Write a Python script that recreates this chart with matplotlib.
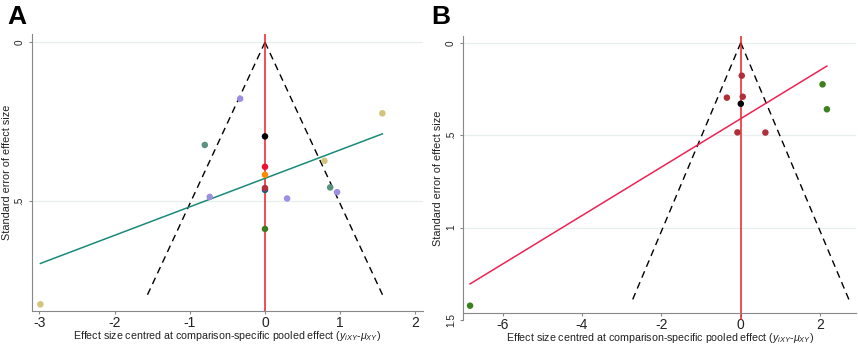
import matplotlib
matplotlib.use("Agg")
import matplotlib.pyplot as plt
import numpy as np

plt.rcParams['font.family'] = ['Liberation Sans', 'DejaVu Sans']
plt.rcParams['mathtext.fontset'] = 'custom'
plt.rcParams['mathtext.rm'] = 'Liberation Sans'
plt.rcParams['mathtext.it'] = 'Liberation Sans:italic'

# Panel A data
a_x = [-0.33, 1.56, 0.0, -0.80, 0.79, 0.0, 0.0, 0.0, 0.0, 0.866, 0.958, -0.734, 0.294, 0.0, -2.985]
a_se = [0.178, 0.224, 0.297, 0.324, 0.374, 0.393, 0.418, 0.466, 0.460, 0.458, 0.473, 0.488, 0.493, 0.589, 0.827]
a_col = ['#9d8fe0', '#d2c47c', '#000000', '#5b917f', '#d2c47c', '#ee1030', '#ff8a00', '#1c5a8c',
         '#b0303a', '#5b917f', '#9d8fe0', '#9d8fe0', '#9d8fe0', '#3d7a1e', '#d2c47c']
a_fit = ([-2.985, 1.56], [0.698, 0.289])
a_semax = 0.80

# Panel B data
b_x = [0.025, 2.06, -0.35, 0.05, 0.0, 2.17, -0.084, 0.62, -6.82]
b_se = [0.178, 0.225, 0.297, 0.292, 0.33, 0.36, 0.485, 0.486, 1.423]
b_col = ['#b0303a', '#3d8020', '#b0303a', '#b0303a', '#000000', '#3d8020', '#b0303a', '#b0303a', '#3d8020']
b_fit = ([-6.82, 2.17], [1.305, 0.126])
b_semax = 1.40

xlabel = r"Effect size centred at comparison-specific pooled effect ($y_{iXY}$-$\mu_{XY}$)"

fig = plt.figure(figsize=(8.58, 3.44), dpi=100)
axA = fig.add_axes([0.037, 0.096, 0.456, 0.805])
axB = fig.add_axes([0.540, 0.070, 0.458, 0.825])


def funnel(ax, x, se, cols, fit, fitcol, semax, xlim, ylim, yticks, yticklabels, xticks, spine_y, label_y):
    ax.set_xlim(*xlim)
    ax.set_ylim(*ylim)
    for t in yticks:
        ax.axhline(t, color='#e6eeee', lw=0.9, zorder=0)
    s = np.array([0, semax])
    ax.plot(-1.96 * s, s, color='black', ls=(0, (5, 3.5)), lw=1.0, zorder=2)
    ax.plot(1.96 * s, s, color='black', ls=(0, (5, 3.5)), lw=1.0, zorder=2)
    ax.axvline(0, color='#ee1c24', lw=1.1, zorder=2)
    ax.plot(fit[0], fit[1], color=fitcol, lw=1.1, zorder=3)
    ax.scatter(x, se, c=cols, s=22, zorder=4, linewidths=0)
    ax.set_yticks(yticks)
    ax.set_yticklabels(yticklabels, rotation=90, va='center', fontsize=7.2)
    ax.set_xticks(xticks)
    ax.set_xticklabels([str(t) for t in xticks], fontsize=7.2)
    for sp in ['top', 'right']:
        ax.spines[sp].set_visible(False)
    ax.spines['left'].set_color('#888888')
    ax.spines['bottom'].set_color('#888888')
    ax.spines['bottom'].set_position(('data', spine_y))
    ax.tick_params(colors='#888888', length=2.2, width=0.8, labelcolor='#222222')
    ax.tick_params(axis='x', pad=1.6)
    ax.tick_params(axis='y', pad=3)
    ax.set_ylabel('Standard error of effect size', fontsize=7.8, labelpad=2, color='#222222')
    ax.set_xlabel(xlabel, fontsize=7.7, color='#222222', va='baseline')
    ax.xaxis.set_label_coords(0.5, label_y)


funnel(axA, a_x, a_se, a_col, a_fit, '#1a8a78', a_semax, (-3.1, 2.1), (0.848, -0.026),
       [0, 0.5], ['0', '.5'], [-3, -2, -1, 0, 1, 2], 0.848, -0.1025)
funnel(axB, b_x, b_se, b_col, b_fit, '#ee2255', b_semax, (-6.99, 2.91), (1.5, -0.036),
       [0, 0.5, 1, 1.5], ['0', '.5', '1', '1.5'], [-6, -4, -2, 0, 2], 1.46, -0.0745)

fig.text(0.008, 0.985, 'A', fontsize=19, fontweight='bold', va='top', ha='left')
fig.text(0.503, 0.985, 'B', fontsize=19, fontweight='bold', va='top', ha='left')

fig.savefig('out.png', dpi=100)
